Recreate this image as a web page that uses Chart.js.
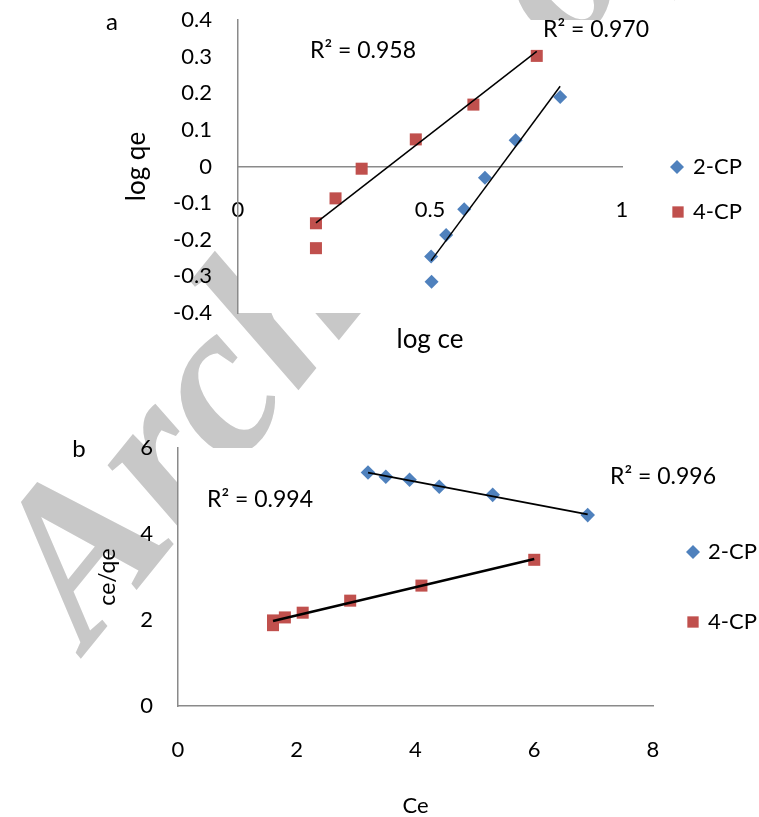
<!DOCTYPE html>
<html>
<head>
<meta charset="utf-8">
<script src="https://cdn.jsdelivr.net/npm/chart.js@4.4.0/dist/chart.umd.min.js"></script>
<style>
  html, body { margin: 0; padding: 0; background: #fff; }
  #wrap { position: relative; width: 759px; height: 817px; overflow: hidden; }
  canvas { position: absolute; left: 0; }
  #mark { top: 0; }
  #chartA { top: 0; }
  #chartB { top: 400px; }
</style>
</head>
<body>
<div id="wrap">
  <canvas id="mark" width="759" height="817"></canvas>
  <canvas id="chartA" width="759" height="380"></canvas>
  <canvas id="chartB" width="759" height="417"></canvas>
</div>
<script>
// --- Data, panel a: log qe vs log ce
const logCe2CP = [0.504, 0.503, 0.542, 0.589, 0.643, 0.723, 0.839];
const logQe2CP = [-0.315, -0.246, -0.187, -0.117, -0.031, 0.072, 0.190];
const logCe4CP = [0.203, 0.203, 0.254, 0.322, 0.463, 0.613, 0.778];
const logQe4CP = [-0.155, -0.223, -0.087, -0.006, 0.074, 0.169, 0.302];

// --- Data, panel b: ce/qe vs ce
const ce2CP = [3.2, 3.5, 3.9, 4.4, 5.3, 6.9];
const ceQe2CP = [5.43, 5.33, 5.26, 5.10, 4.91, 4.44];
const ce4CP = [1.6, 1.6, 1.8, 2.1, 2.9, 4.1, 6.0];
const ceQe4CP = [1.99, 1.88, 2.06, 2.17, 2.45, 2.80, 3.40];

const seriesNames = ['2-CP', '4-CP'];
const r2A = ['0.970', '0.958'];   // 2-CP, 4-CP
const r2B = ['0.996', '0.994'];

// --- Ticks
const xTicksA = [0, 0.5, 1];
const yTicksA = [-0.4, -0.3, -0.2, -0.1, 0, 0.1, 0.2, 0.3, 0.4];
const xTicksB = [0, 2, 4, 6, 8];
const yTicksB = [0, 2, 4, 6];

const BLUE = '#4F81BD';
const RED = '#C0504D';
const AXIS = '#8a8a8a';
const FONT = 'Lato, "Open Sans", sans-serif';

// --- Helpers
function pts(xs, ys) {
  return xs.map((x, i) => ({ x: x, y: ys[i] }));
}

// least squares trend line, drawn from min x to max x
function fitLine(xs, ys) {
  const n = xs.length;
  const mx = xs.reduce((a, b) => a + b, 0) / n;
  const my = ys.reduce((a, b) => a + b, 0) / n;
  let sxy = 0, sxx = 0;
  xs.forEach((x, i) => { sxy += (x - mx) * (ys[i] - my); sxx += (x - mx) * (x - mx); });
  const k = sxy / sxx, b = my - k * mx;
  const x0 = Math.min(...xs), x1 = Math.max(...xs);
  return [{ x: x0, y: k * x0 + b }, { x: x1, y: k * x1 + b }];
}

function useTicks(list) {
  return s => { s.ticks = list.map(v => ({ value: v })); };
}

const fmt1 = v => String(Number(v.toFixed(1)));

function scatterSet(label, data, color, style, r) {
  return {
    label: label, data: data, pointStyle: style, pointRadius: r, pointHoverRadius: r,
    backgroundColor: color, borderColor: color, pointBorderWidth: 0, showLine: false, order: 1
  };
}

function trendSet(data, w) {
  return {
    type: 'line', data: data, borderColor: '#000', borderWidth: w,
    pointRadius: 0, fill: false, order: 0
  };
}

// white plot area, covers the watermark like the original
const plotBg = {
  id: 'plotBg',
  beforeDraw(chart) {
    const { ctx, chartArea: a } = chart;
    ctx.save();
    ctx.fillStyle = '#fff';
    ctx.fillRect(a.left, a.top, a.right - a.left, a.bottom - a.top);
    ctx.restore();
  }
};

function text(ctx, str, x, y, size, align) {
  ctx.font = size + 'px ' + FONT;
  ctx.fillStyle = '#000';
  ctx.textAlign = align || 'left';
  ctx.textBaseline = 'middle';
  ctx.fillText(str, x, y);
}

function legendItem(ctx, style, color, r, x, y, label, tx) {
  ctx.save();
  ctx.fillStyle = color;
  ctx.strokeStyle = color;
  Chart.helpers.drawPoint(ctx, { pointStyle: style, radius: r, rotation: 0, borderWidth: 0 }, x, y);
  ctx.restore();
  text(ctx, label, tx, y, 22);
}

// --- Watermark
(function () {
  const ctx = document.getElementById('mark').getContext('2d');
  ctx.save();
  ctx.translate(88, 650);
  ctx.rotate(-51 * Math.PI / 180);
  ctx.font = 'bold italic 220px "Liberation Serif", serif';
  ctx.fillStyle = '#c8c8c8';
  ctx.textBaseline = 'alphabetic';
  ctx.fillText('Archive of SID', 0, 0);
  ctx.restore();
})();

// --- Panel a
const labelsA = {
  id: 'labelsA',
  afterDraw(chart) {
    const { ctx, chartArea: a, scales } = chart;
    ctx.save();
    text(ctx, 'a', 112, 22, 24, 'center');
    text(ctx, 'log ce', scales.x.getPixelForValue(0.5), a.bottom + 27, 26, 'center');
    text(ctx, 'R\u00B2 = ' + r2A[1], a.left + 72, a.top + 31, 23);
    text(ctx, 'R\u00B2 = ' + r2A[0], a.left + 305, a.top + 10, 23);
    legendItem(ctx, 'rectRot', BLUE, 7, 677, 167, seriesNames[0], 693);
    legendItem(ctx, 'rect', RED, 8, 678, 212, seriesNames[1], 693);
    ctx.restore();
  }
};

new Chart(document.getElementById('chartA'), {
  type: 'scatter',
  data: {
    datasets: [
      trendSet(fitLine(logCe2CP, logQe2CP), 1.5),
      trendSet(fitLine(logCe4CP, logQe4CP), 1.5),
      scatterSet(seriesNames[0], pts(logCe2CP, logQe2CP), BLUE, 'rectRot', 7),
      scatterSet(seriesNames[1], pts(logCe4CP, logQe4CP), RED, 'rect', 8.5)
    ]
  },
  options: {
    responsive: false,
    animation: false,
    events: [],
    layout: { padding: { top: 20, right: 137, bottom: 67, left: 0 } },
    plugins: { legend: { display: false }, tooltip: { enabled: false } },
    scales: {
      x: {
        type: 'linear', min: 0, max: 1, position: { y: 0 },
        afterBuildTicks: useTicks(xTicksA),
        afterFit: s => { s.height = 0; },
        grid: { display: false, drawTicks: false },
        border: { color: AXIS, width: 1.5 },
        ticks: { padding: 30, color: '#000', font: { family: FONT, size: 22 }, maxRotation: 0, callback: fmt1 }
      },
      y: {
        type: 'linear', min: -0.4, max: 0.4, position: 'left',
        afterBuildTicks: useTicks(yTicksA),
        afterFit: s => { s.width = 238; s.paddingTop = 0; s.paddingBottom = 0; },
        grid: { display: false, drawTicks: false },
        border: { color: AXIS, width: 1.5 },
        ticks: { padding: 26, color: '#000', font: { family: FONT, size: 22 }, callback: fmt1 },
        title: {
          display: true, text: 'log qe', color: '#000',
          font: { family: FONT, size: 26 }, padding: { top: 121, bottom: 0 }
        }
      }
    }
  },
  plugins: [plotBg, labelsA]
});

// --- Panel b
const labelsB = {
  id: 'labelsB',
  afterDraw(chart) {
    const { ctx, chartArea: a } = chart;
    ctx.save();
    text(ctx, 'b', 79, 49, 24, 'center');
    text(ctx, 'R\u00B2 = ' + r2B[1], a.left + 29, a.top + 52, 23);
    text(ctx, 'R\u00B2 = ' + r2B[0], a.left + 432, a.top + 29, 23);
    legendItem(ctx, 'rectRot', BLUE, 7, 693, 152, seriesNames[0], 708);
    legendItem(ctx, 'rect', RED, 8, 693, 222, seriesNames[1], 708);
    ctx.restore();
  }
};

new Chart(document.getElementById('chartB'), {
  type: 'scatter',
  data: {
    datasets: [
      trendSet(fitLine(ce2CP, ceQe2CP), 1.8),
      trendSet(fitLine(ce4CP, ceQe4CP), 2.6),
      scatterSet(seriesNames[0], pts(ce2CP, ceQe2CP), BLUE, 'rectRot', 7.3),
      scatterSet(seriesNames[1], pts(ce4CP, ceQe4CP), RED, 'rect', 8.5)
    ]
  },
  options: {
    responsive: false,
    animation: false,
    events: [],
    layout: { padding: { top: 48, right: 106, bottom: 0, left: 0 } },
    plugins: { legend: { display: false }, tooltip: { enabled: false } },
    scales: {
      x: {
        type: 'linear', min: 0, max: 8, position: 'bottom',
        afterBuildTicks: useTicks(xTicksB),
        afterFit: s => { s.height = 111; },
        grid: { display: false, drawTicks: false },
        border: { color: AXIS, width: 1.5 },
        ticks: { padding: 31, color: '#000', font: { family: FONT, size: 22 }, maxRotation: 0 },
        title: {
          display: true, text: 'Ce', color: '#000',
          font: { family: FONT, size: 22, lineHeight: 1 }, padding: { top: 0, bottom: 0 }
        }
      },
      y: {
        type: 'linear', min: 0, max: 6, position: 'left',
        afterBuildTicks: useTicks(yTicksB),
        afterFit: s => { s.width = 178; },
        grid: { display: false, drawTicks: false },
        border: { color: AXIS, width: 1.5 },
        ticks: { padding: 25, color: '#000', font: { family: FONT, size: 22 } },
        title: {
          display: true, text: 'ce/qe', color: '#000',
          font: { family: FONT, size: 23 }, padding: { top: 94, bottom: 0 }
        }
      }
    }
  },
  plugins: [plotBg, labelsB]
});
</script>
</body>
</html>
